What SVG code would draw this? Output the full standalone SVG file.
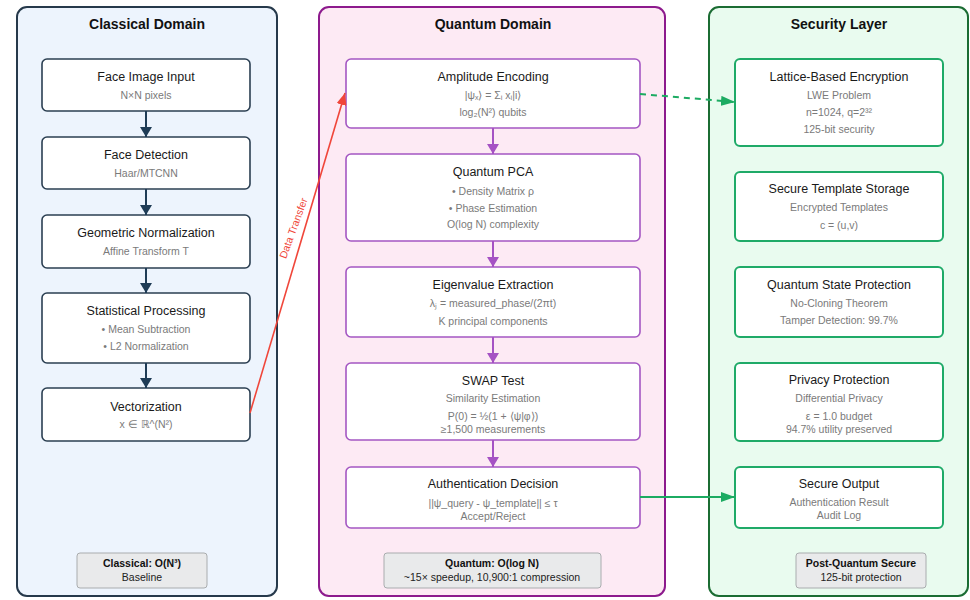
<svg xmlns="http://www.w3.org/2000/svg" width="970" height="600" viewBox="0 0 970 600">
<defs>
<style>
text{font-family:"Liberation Sans",Arial,sans-serif;text-anchor:middle;dominant-baseline:central}
.pt{font-size:14px;font-weight:bold;fill:#111}
.t{font-size:12.5px;fill:#1a1a1a}
.s{font-size:10.5px;fill:#7a7a7a}
.bt{font-size:10.5px;font-weight:bold;fill:#111}
.bs{font-size:10.5px;fill:#222}
.cn{fill:#fff;stroke:#2b3f52;stroke-width:1.6}
.qn{fill:#fff;stroke:#a457c2;stroke-width:1.6}
.sn{fill:#fff;stroke:#1faa68;stroke-width:2}
.bx{fill:#e9eaeb;stroke:#a9acae;stroke-width:1}
</style>
<marker id="ac" viewBox="0 0 10 12" refX="10" refY="6" markerWidth="10" markerHeight="12" markerUnits="userSpaceOnUse" orient="auto"><path d="M0,0 L10,6 L0,12 Z" fill="#1f3c56"/></marker>
<marker id="aq" viewBox="0 0 10 12" refX="10" refY="6" markerWidth="10" markerHeight="12" markerUnits="userSpaceOnUse" orient="auto"><path d="M0,0 L10,6 L0,12 Z" fill="#a552c4"/></marker>
<marker id="ar" viewBox="0 0 12 10" refX="12" refY="5" markerWidth="12" markerHeight="10" markerUnits="userSpaceOnUse" orient="auto"><path d="M0,0 L12,5 L0,10 Z" fill="#f0463a"/></marker>
<marker id="ag" viewBox="0 0 14 10" refX="14" refY="5" markerWidth="14" markerHeight="10" markerUnits="userSpaceOnUse" orient="auto"><path d="M0,0 L14,5 L0,10 Z" fill="#1cab62"/></marker>
</defs>
<rect width="970" height="600" fill="#fff"/>

<g id="classical-panel">
<rect x="17" y="7" width="260" height="589" rx="10" fill="#edf4fd" stroke="#26394b" stroke-width="2"/>
<text class="pt" x="147" y="24">Classical Domain</text>
</g>
<g id="quantum-panel">
<rect x="319" y="7" width="346" height="589" rx="10" fill="#fdeaf4" stroke="#8d1a8d" stroke-width="2"/>
<text class="pt" x="493" y="24">Quantum Domain</text>
</g>
<g id="security-panel">
<rect x="709" y="7" width="259" height="589" rx="10" fill="#e9fbef" stroke="#1b6c33" stroke-width="2"/>
<text class="pt" x="839" y="24">Security Layer</text>
</g>

<g id="face-image-input"><rect class="cn" x="42" y="59" width="208" height="52" rx="5"/><text class="t" x="146" y="77">Face Image Input</text><text class="s" x="146" y="95">N×N pixels</text></g>
<g id="face-detection"><rect class="cn" x="42" y="137" width="208" height="52" rx="5"/><text class="t" x="146" y="155">Face Detection</text><text class="s" x="146" y="173">Haar/MTCNN</text></g>
<g id="geometric-normalization"><rect class="cn" x="42" y="215" width="208" height="53" rx="5"/><text class="t" x="146" y="233">Geometric Normalization</text><text class="s" x="146" y="251">Affine Transform T</text></g>
<g id="statistical-processing"><rect class="cn" x="42" y="293" width="208" height="70" rx="5"/><text class="t" x="146" y="311">Statistical Processing</text><text class="s" x="146" y="329">• Mean Subtraction</text><text class="s" x="146" y="346">• L2 Normalization</text></g>
<g id="vectorization"><rect class="cn" x="42" y="388" width="208" height="53" rx="5"/><text class="t" x="146" y="407">Vectorization</text><text class="s" x="146" y="424">x ∈ ℝ^(N²)</text></g>
<g id="classical-complexity"><rect class="bx" x="77" y="553" width="130" height="35" rx="3"/><text class="bt" x="142" y="563">Classical: O(N³)</text><text class="bs" x="142" y="577">Baseline</text></g>

<g id="amplitude-encoding"><rect class="qn" x="346" y="59" width="294" height="69" rx="5"/><text class="t" x="493" y="77">Amplitude Encoding</text><text class="s" x="493" y="95">|ψₓ⟩ = Σᵢ xᵢ|i⟩</text><text class="s" x="493" y="112">log₂(N²) qubits</text></g>
<g id="quantum-pca"><rect class="qn" x="346" y="154" width="294" height="87" rx="5"/><text class="t" x="493" y="172">Quantum PCA</text><text class="s" x="493" y="191">• Density Matrix ρ</text><text class="s" x="493" y="208">• Phase Estimation</text><text class="s" x="493" y="224">O(log N) complexity</text></g>
<g id="eigenvalue-extraction"><rect class="qn" x="346" y="267" width="294" height="70" rx="5"/><text class="t" x="493" y="285">Eigenvalue Extraction</text><text class="s" x="493" y="303">λⱼ = measured_phase/(2πt)</text><text class="s" x="493" y="321">K principal components</text></g>
<g id="swap-test"><rect class="qn" x="346" y="363" width="294" height="77" rx="5"/><text class="t" x="493" y="381">SWAP Test</text><text class="s" x="493" y="398">Similarity Estimation</text><text class="s" x="493" y="416">P(0) = ½(1 + ⟨ψ|φ⟩)</text><text class="s" x="493" y="429">≥1,500 measurements</text></g>
<g id="authentication-decision"><rect class="qn" x="346" y="467" width="294" height="61" rx="5"/><text class="t" x="493" y="484">Authentication Decision</text><text class="s" x="493" y="503">||ψ_query - ψ_template|| ≤ τ</text><text class="s" x="493" y="516">Accept/Reject</text></g>
<g id="quantum-complexity"><rect class="bx" x="384" y="553" width="217" height="35" rx="3"/><text class="bt" x="492" y="563">Quantum: O(log N)</text><text class="bs" x="492" y="577">~15× speedup, 10,900:1 compression</text></g>

<g id="lattice-encryption"><rect class="sn" x="735" y="59" width="208" height="87" rx="5"/><text class="t" x="839" y="77">Lattice-Based Encryption</text><text class="s" x="839" y="95">LWE Problem</text><text class="s" x="839" y="112">n=1024, q=2³²</text><text class="s" x="839" y="129">125-bit security</text></g>
<g id="secure-template-storage"><rect class="sn" x="735" y="172" width="208" height="69" rx="5"/><text class="t" x="839" y="189">Secure Template Storage</text><text class="s" x="839" y="207">Encrypted Templates</text><text class="s" x="839" y="225">c = (u,v)</text></g>
<g id="quantum-state-protection"><rect class="sn" x="735" y="267" width="208" height="70" rx="5"/><text class="t" x="839" y="285">Quantum State Protection</text><text class="s" x="839" y="303">No-Cloning Theorem</text><text class="s" x="839" y="320">Tamper Detection: 99.7%</text></g>
<g id="privacy-protection"><rect class="sn" x="735" y="363" width="208" height="78" rx="5"/><text class="t" x="839" y="380">Privacy Protection</text><text class="s" x="839" y="398">Differential Privacy</text><text class="s" x="839" y="416">ε = 1.0 budget</text><text class="s" x="839" y="429">94.7% utility preserved</text></g>
<g id="secure-output"><rect class="sn" x="735" y="467" width="208" height="61" rx="5"/><text class="t" x="839" y="484">Secure Output</text><text class="s" x="839" y="502">Authentication Result</text><text class="s" x="839" y="515">Audit Log</text></g>
<g id="security-level"><rect class="bx" x="796" y="553" width="130" height="35" rx="3"/><text class="bt" x="861" y="563">Post-Quantum Secure</text><text class="bs" x="861" y="577">125-bit protection</text></g>

<g id="connectors">
<g stroke="#1f3c56" stroke-width="2" fill="none">
<line x1="146" y1="111" x2="146" y2="137" marker-end="url(#ac)"/>
<line x1="146" y1="189" x2="146" y2="215" marker-end="url(#ac)"/>
<line x1="146" y1="268" x2="146" y2="293" marker-end="url(#ac)"/>
<line x1="146" y1="363" x2="146" y2="388" marker-end="url(#ac)"/>
</g>
<g stroke="#a552c4" stroke-width="2" fill="none">
<line x1="493" y1="128" x2="493" y2="154" marker-end="url(#aq)"/>
<line x1="493" y1="241" x2="493" y2="267" marker-end="url(#aq)"/>
<line x1="493" y1="337" x2="493" y2="363" marker-end="url(#aq)"/>
<line x1="493" y1="440" x2="493" y2="467" marker-end="url(#aq)"/>
</g>
<line x1="250" y1="413" x2="345" y2="93" stroke="#f0463a" stroke-width="1.6" marker-end="url(#ar)"/>
<text x="293" y="228" transform="rotate(-70 293 228)" style="font-size:10.5px;fill:#f0463a">Data Transfer</text>
<line x1="640" y1="94" x2="735" y2="102" stroke="#1cab62" stroke-width="2" stroke-dasharray="6,5" marker-end="url(#ag)"/>
<line x1="640" y1="497" x2="735" y2="497" stroke="#1cab62" stroke-width="2" marker-end="url(#ag)"/>
</g>
</svg>
